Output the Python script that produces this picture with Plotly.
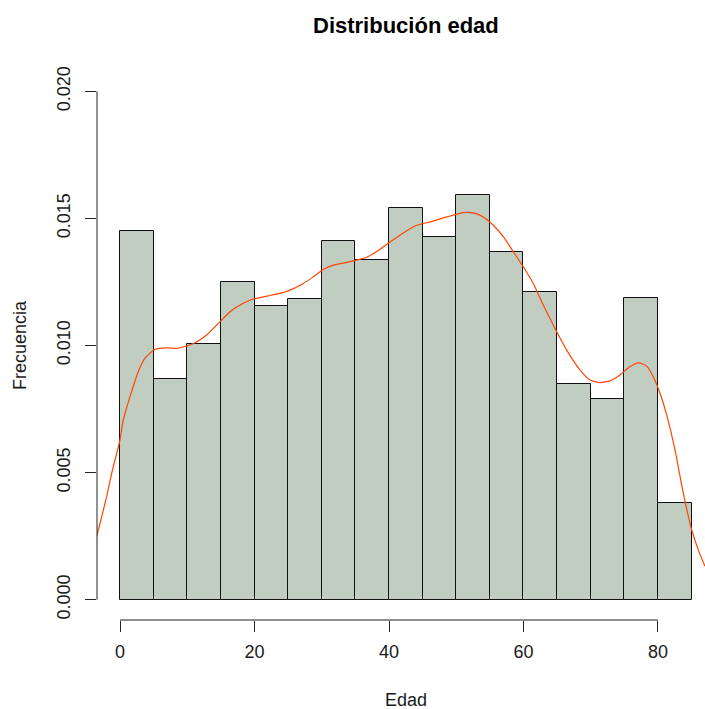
import plotly.graph_objects as go

# Histogram of ages (density scale), bins of width 5
bin_edges = [0, 5, 10, 15, 20, 25, 30, 35, 40, 45, 50, 55, 60, 65, 70, 75, 80, 85]
bar_density = [0.01450, 0.00868, 0.01007, 0.01251, 0.01154, 0.01183, 0.01412, 0.01335,
               0.01541, 0.01428, 0.01593, 0.01367, 0.01209, 0.00850, 0.00790, 0.01187,
               0.00382]

# Kernel density estimate of age
kde_x = [-3.46, -2.72, -1.98, -1.23, -0.49, 0.0, 0.49, 1.49, 2.72, 3.72, 5.20, 6.94,
         8.43, 9.92, 11.15, 12.89, 14.62, 16.36, 18.33, 19.82, 21.81, 23.79, 25.28,
         27.26, 28.74, 30.23, 31.72, 33.71, 35.20, 36.68, 38.66, 40.15, 42.13, 44.12,
         46.10, 48.58, 51.05, 52.54, 54.02, 55.51, 57.00, 58.48, 59.97, 61.46, 62.94,
         64.94, 66.42, 68.40, 69.89, 71.38, 72.86, 74.35, 75.84, 77.07, 78.32, 79.30,
         80.30, 81.29, 82.53, 83.76, 85.01, 85.99, 86.99]
kde_y = [0.00249, 0.00327, 0.00406, 0.00498, 0.00576, 0.00629, 0.00707, 0.00799,
         0.00897, 0.00950, 0.00985, 0.00991, 0.00989, 0.00998, 0.01011, 0.01041,
         0.01087, 0.01133, 0.01166, 0.01183, 0.01194, 0.01205, 0.01218, 0.01244,
         0.01270, 0.01299, 0.01316, 0.01327, 0.01336, 0.01347, 0.01379, 0.01407,
         0.01443, 0.01473, 0.01486, 0.01506, 0.01523, 0.01522, 0.01506, 0.01473,
         0.01428, 0.01369, 0.01310, 0.01244, 0.01159, 0.01054, 0.00982, 0.00904,
         0.00864, 0.00854, 0.00861, 0.00884, 0.00917, 0.00932, 0.00919, 0.00877,
         0.00812, 0.00727, 0.00589, 0.00419, 0.00275, 0.00196, 0.00131]

x_ticks = [0, 20, 40, 60, 80]
y_ticks = [0.000, 0.005, 0.010, 0.015, 0.020]
y_tick_text = ["0.000", "0.005", "0.010", "0.015", "0.020"]

title_text = "Distribución edad"
x_title = "Edad"
y_title = "Frecuencia"

FONT = "Liberation Sans, Arial, sans-serif"
TXT = "#1a1a1a"

bar_centers = [(a + b) / 2 for a, b in zip(bin_edges[:-1], bin_edges[1:])]
bar_widths = [b - a for a, b in zip(bin_edges[:-1], bin_edges[1:])]

fig = go.Figure()
fig.add_trace(go.Bar(
    x=bar_centers, y=bar_density, width=bar_widths,
    marker=dict(color="#C1CDC1", line=dict(color="#111111", width=1)),
    hoverinfo="skip",
))
fig.add_trace(go.Scatter(
    x=kde_x, y=kde_y, mode="lines",
    line=dict(color="#FF4500", width=1.2, shape="spline", smoothing=0.5),
    hoverinfo="skip",
))

W, H = 705, 709
ML, MR, MT, MB = 97, 0, 71, 89
plot_h = H - MT - MB
plot_w = W - ML - MR


def px_to_paper_y(py):
    return (H - MB - py) / plot_h


def px_to_paper_x(px):
    return (px - ML) / plot_w


fig.update_layout(
    width=W, height=H,
    margin=dict(l=ML, r=MR, t=MT, b=MB, pad=0),
    paper_bgcolor="white", plot_bgcolor="white",
    showlegend=False, bargap=0,
    font=dict(family=FONT, size=18, color=TXT),
    xaxis=dict(
        range=[-3.42, 86.99], tickvals=x_ticks, ticks="outside", ticklen=11,
        tickwidth=1, tickcolor="#222222", showgrid=False, zeroline=False,
        showline=False, tickfont=dict(size=18, color=TXT), fixedrange=True,
        ticklabelstandoff=4,
    ),
    yaxis=dict(
        range=[-0.0008, 0.0208], tickvals=y_ticks, ticktext=y_tick_text,
        tickangle=-90, ticks="outside", ticklen=11, tickwidth=1,
        tickcolor="#222222", showgrid=False, zeroline=False, showline=False,
        tickfont=dict(size=18, color=TXT), fixedrange=True,
        ticklabelstandoff=8,
    ),
    shapes=[
        # x axis line spanning the tick range
        dict(type="line", xref="x", yref="paper", x0=x_ticks[0], x1=x_ticks[-1],
             y0=0, y1=0, line=dict(color="#222222", width=1)),
        # y axis line spanning the tick range
        dict(type="line", xref="paper", yref="y", x0=0, x1=0,
             y0=y_ticks[0], y1=y_ticks[-1], line=dict(color="#222222", width=1)),
    ],
    annotations=[
        dict(text=f"<b>{title_text}</b>", xref="paper", yref="paper",
             x=px_to_paper_x(406), y=px_to_paper_y(26), showarrow=False,
             xanchor="center", yanchor="middle",
             font=dict(size=22, color="#000000", family=FONT)),
        dict(text=x_title, xref="paper", yref="paper",
             x=px_to_paper_x(406), y=px_to_paper_y(700), showarrow=False,
             xanchor="center", yanchor="middle",
             font=dict(size=18, color=TXT, family=FONT)),
        dict(text=y_title, xref="paper", yref="paper", textangle=-90,
             x=px_to_paper_x(20), y=px_to_paper_y(345), showarrow=False,
             xanchor="center", yanchor="middle",
             font=dict(size=18, color=TXT, family=FONT)),
    ],
)

fig.write_html("out.html")
